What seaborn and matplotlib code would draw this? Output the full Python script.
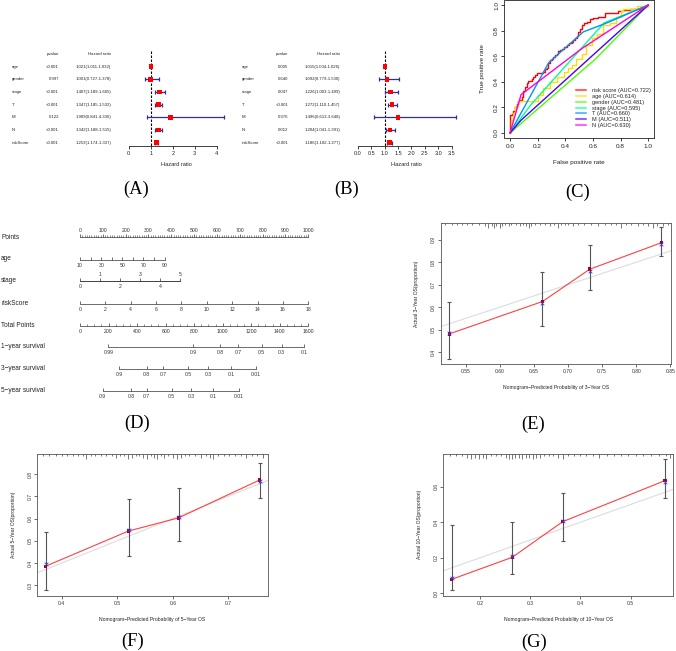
import matplotlib
matplotlib.use('Agg')
import matplotlib.pyplot as plt
from matplotlib.lines import Line2D
import numpy as np
import pandas as pd
import seaborn as sns

# ---------------- data ----------------
cox_vars = ['age', 'gender', 'stage', 'T', 'M', 'N', 'riskScore']
uni_p = ['<0.001', '0.997', '<0.001', '<0.001', '0.122', '<0.001', '<0.001']
uni_hr = [1.021, 1.001, 1.407, 1.347, 1.909, 1.342, 1.253]
uni_lo = [1.011, 0.727, 1.189, 1.185, 0.841, 1.188, 1.174]
uni_hi = [1.032, 1.378, 1.665, 1.532, 4.336, 1.515, 1.337]
uni_ticks = [0, 1, 2, 3, 4]
multi_p = ['0.005', '0.640', '0.047', '<0.001', '0.376', '0.012', '<0.001']
multi_hr = [1.015, 1.092, 1.226, 1.272, 1.496, 1.204, 1.186]
multi_lo = [1.004, 0.779, 1.003, 1.110, 0.613, 1.041, 1.102]
multi_hi = [1.026, 1.530, 1.499, 1.457, 3.648, 1.391, 1.277]
multi_ticks = [0.0, 0.5, 1.0, 1.5, 2.0, 2.5, 3.0, 3.5]

roc_labels = ['risk score (AUC=0.722)', 'age (AUC=0.614)', 'gender (AUC=0.481)',
              'stage (AUC=0.595)', 'T (AUC=0.660)', 'M (AUC=0.511)', 'N (AUC=0.630)']
roc_colors = ['#FF0000', '#FFDB00', '#49FF00', '#00FF92', '#0092FF', '#4900FF', '#FF00DB']
risk_fpr = [0, 0, 0.012, 0.024, 0.036, 0.048, 0.060, 0.072, 0.084, 0.096, 0.108, 0.120, 0.133,
            0.145, 0.157, 0.169, 0.181, 0.198, 0.220, 0.241, 0.253, 0.265, 0.277, 0.289, 0.301,
            0.313, 0.325, 0.337, 0.349, 0.361, 0.373, 0.392, 0.410, 0.428, 0.446, 0.458, 0.470,
            0.482, 0.494, 0.506, 0.518, 0.536, 0.554, 0.578, 0.602, 0.633, 0.663, 0.687, 0.717,
            0.747, 0.783, 0.819, 0.867, 0.916, 0.940, 0.964, 0.982, 1.0]
risk_tpr = [0, 0.14, 0.15, 0.17, 0.20, 0.23, 0.25, 0.26, 0.28, 0.33, 0.36, 0.39, 0.41,
            0.41, 0.42, 0.44, 0.45, 0.47, 0.47, 0.48, 0.50, 0.51, 0.55, 0.57, 0.58,
            0.59, 0.61, 0.62, 0.64, 0.65, 0.66, 0.67, 0.69, 0.70, 0.71, 0.73, 0.74,
            0.76, 0.79, 0.81, 0.84, 0.86, 0.87, 0.89, 0.90, 0.91, 0.91, 0.935, 0.94,
            0.94, 0.95, 0.96, 0.97, 0.97, 0.98, 0.985, 0.99, 1.0]
age_fpr = [0, 0.007, 0.02, 0.036, 0.06, 0.12, 0.18, 0.20, 0.24, 0.29, 0.34, 0.39, 0.42,
           0.45, 0.48, 0.52, 0.55, 0.59, 0.63, 0.67, 0.72, 0.77, 0.80, 0.82, 0.92, 1.0]
age_tpr = [0, 0.10, 0.16, 0.21, 0.25, 0.25, 0.25, 0.30, 0.35, 0.40, 0.44, 0.48, 0.51,
           0.53, 0.58, 0.62, 0.69, 0.74, 0.77, 0.84, 0.86, 0.91, 0.95, 0.97, 0.99, 1.0]
gender_fpr = [0, 0.62, 1.0]
gender_tpr = [0, 0.58, 1.0]
stage_fpr = [0, 0.15, 0.68, 1.0]
stage_tpr = [0, 0.22, 0.86, 1.0]
t_fpr = [0, 0.28, 0.53, 0.70, 1.0]
t_tpr = [0, 0.55, 0.79, 0.86, 1.0]
m_fpr = [0, 0.08, 1.0]
m_tpr = [0, 0.10, 1.0]
n_fpr = [0, 0.08, 0.52, 1.0]
n_tpr = [0, 0.30, 0.66, 1.0]

# nomogram
points_ticks = [0, 100, 200, 300, 400, 500, 600, 700, 800, 900, 1000]
points_minor = list(range(0, 1001, 10))
age_values = [10, 20, 30, 40, 50, 60, 70, 80, 90]
age_points = [0, 46, 93, 139, 185, 232, 278, 324, 371]
stage_values = [0, 1, 2, 3, 4, 5]
stage_points = [0, 88, 175, 263, 350, 438]
risk_values = [0, 2, 4, 6, 8, 10, 12, 14, 16, 18]
risk_points = [0, 111, 222, 333, 444, 556, 667, 778, 889, 1000]
total_ticks = [0, 200, 400, 600, 800, 1000, 1200, 1400, 1600]
total_minor = list(range(0, 1601, 50))
surv1_probs = ['0.99', '0.9', '0.8', '0.7', '0.5', '0.3', '0.1']
surv1_total = [198, 794, 981, 1110, 1273, 1413, 1572]
surv3_probs = ['0.9', '0.8', '0.7', '0.5', '0.3', '0.1', '0.01']
surv3_total = [276, 467, 584, 759, 899, 1058, 1233]
surv5_probs = ['0.9', '0.8', '0.7', '0.5', '0.3', '0.1', '0.01']
surv5_total = [159, 357, 467, 643, 778, 934, 1116]

# calibration
cal3_pred = [0.526, 0.6625, 0.732, 0.837]
cal3_obs = [0.481, 0.625, 0.769, 0.887]
cal3_corr = [0.486, 0.619, 0.762, 0.882]
cal3_lo = [0.369, 0.517, 0.676, 0.826]
cal3_hi = [0.625, 0.755, 0.875, 0.955]
cal3_rug = [0.520, 0.530, 0.537, 0.545, 0.552, 0.560, 0.569, 0.578, 0.583, 0.588, 0.592, 0.595,
            0.600, 0.604, 0.608, 0.614, 0.617, 0.624, 0.629, 0.634, 0.639, 0.643, 0.646, 0.651,
            0.659, 0.666, 0.673, 0.680, 0.685, 0.690, 0.695, 0.700, 0.707, 0.714, 0.724, 0.734,
            0.744, 0.754, 0.763, 0.770, 0.778, 0.785, 0.793, 0.802, 0.810, 0.817, 0.824, 0.831,
            0.839, 0.846]
cal3_rugn = [1, 1, 1, 1, 1, 1, 1, 2, 3, 2, 3, 2, 3, 2, 1, 2, 1, 1, 2, 1, 2, 3, 2, 1, 1,
             1, 2, 1, 3, 1, 1, 1, 2, 1, 1, 1, 2, 1, 1, 1, 3, 1, 1, 2, 1, 2, 3, 2, 2, 1]

cal5_pred = [0.3712, 0.5204, 0.6104, 0.7562]
cal5_obs = [0.386, 0.544, 0.603, 0.773]
cal5_corr = [0.394, 0.548, 0.605, 0.767]
cal5_lo = [0.277, 0.430, 0.498, 0.691]
cal5_hi = [0.541, 0.686, 0.739, 0.850]
cal5_rug = [0.367, 0.378, 0.390, 0.400, 0.410, 0.420, 0.430, 0.438, 0.444, 0.452, 0.460, 0.470,
            0.480, 0.490, 0.498, 0.505, 0.512, 0.519, 0.526, 0.533, 0.540, 0.547, 0.553, 0.560,
            0.566, 0.571, 0.578, 0.585, 0.592, 0.600, 0.607, 0.614, 0.622, 0.630, 0.640, 0.650,
            0.660, 0.667, 0.673, 0.682, 0.692, 0.702, 0.712, 0.722, 0.732, 0.742, 0.752, 0.763]
cal5_rugn = [1, 1, 1, 1, 1, 1, 1, 1, 3, 1, 1, 1, 1, 1, 2, 1, 1, 3, 2, 1, 1, 2, 3, 1,
             2, 3, 1, 2, 1, 2, 3, 2, 1, 1, 1, 2, 1, 2, 3, 1, 1, 1, 1, 1, 2, 1, 1, 2]

cal10_pred = [0.1436, 0.2644, 0.3646, 0.5683]
cal10_obs = [0.079, 0.203, 0.403, 0.634]
cal10_corr = [0.088, 0.210, 0.405, 0.627]
cal10_lo = [0.019, 0.107, 0.294, 0.534]
cal10_hi = [0.382, 0.399, 0.566, 0.757]
cal10_rug = [0.140, 0.152, 0.165, 0.175, 0.182, 0.190, 0.198, 0.206, 0.213, 0.222, 0.232,
             0.242, 0.252, 0.258, 0.263, 0.270, 0.277, 0.284, 0.291, 0.298, 0.305, 0.312,
             0.319, 0.328, 0.337, 0.346, 0.356, 0.366, 0.376, 0.388, 0.400, 0.412, 0.425,
             0.438, 0.452, 0.466, 0.480, 0.495, 0.510, 0.525, 0.540, 0.556, 0.570, 0.578]
cal10_rugn = [1, 1, 1, 2, 3, 2, 3, 2, 3, 1, 1, 1, 2, 3, 3, 2, 2, 3, 2, 2, 3, 2,
              2, 1, 1, 1, 2, 3, 1, 1, 1, 1, 1, 2, 1, 1, 1, 1, 1, 1, 1, 1, 1, 2]

# ---------------- setup ----------------
sns.set_theme(style='white')
plt.rcParams['font.family'] = ['Liberation Sans', 'DejaVu Sans']

W, H = 676, 651
fig = plt.figure(figsize=(W / 100, H / 100), dpi=100, facecolor='white')


def px_axes(x0, y0, x1, y1):
    return fig.add_axes([x0 / W, 1 - y1 / H, (x1 - x0) / W, (y1 - y0) / H])


def ftext(x, y, s, **kw):
    kw.setdefault('fontsize', 3.1)
    kw.setdefault('color', '#222222')
    return fig.text(x / W, 1 - y / H, s, **kw)


def panel_label(x, y, s):
    ftext(x, y, s, fontsize=13.3, family=['Liberation Serif', 'DejaVu Serif'],
          ha='center', va='center', color='black')


# ---------------- forest plots ----------------
ROW0, ROWSTEP = 66.7, 12.67


def forest(lab_x, p_x, hr_x, zero_px, unit_px, ticks, fmt, pvals, hr, lo, hi):
    ys = [ROW0 + i * ROWSTEP for i in range(len(cox_vars))]
    ftext(p_x, 54, 'pvalue', ha='right', va='center')
    ftext(hr_x, 54, 'Hazard ratio', ha='right', va='center')
    for v, p, h, l, u, y in zip(cox_vars, pvals, hr, lo, hi, ys):
        ftext(lab_x, y, v, ha='left', va='center')
        ftext(p_x, y, p, ha='right', va='center')
        ftext(hr_x, y, f'{h:.3f}({l:.3f}-{u:.3f})', ha='right', va='center')
    xmax = max(hi)
    xl = (-0.04 * xmax, 1.04 * xmax)
    ax = px_axes(zero_px + xl[0] * unit_px, 48, zero_px + xl[1] * unit_px, 146)
    df = pd.DataFrame({'var': cox_vars, 'hr': hr, 'lo': lo, 'hi': hi, 'y': ys})
    navy = '#2E3192'
    ax.hlines(df['y'], df['lo'], df['hi'], color=navy, lw=0.9, clip_on=False, zorder=3)
    ax.vlines(df['lo'], df['y'] - 2, df['y'] + 2, color=navy, lw=0.9, clip_on=False, zorder=3)
    ax.vlines(df['hi'], df['y'] - 2, df['y'] + 2, color=navy, lw=0.9, clip_on=False, zorder=3)
    ax.vlines(1, 51, 146, colors='black', linestyles=(0, (2.2, 1.4)), lw=0.8, zorder=2)
    sns.scatterplot(data=df, x='hr', y='y', marker='s', color='red', s=11,
                    edgecolor='none', ax=ax, zorder=5, legend=False)
    ax.set_xlim(xl)
    ax.set_ylim(146, 48)
    ax.patch.set_visible(False)
    for s in ['top', 'right', 'left']:
        ax.spines[s].set_visible(False)
    ax.spines['bottom'].set_bounds(ticks[0], ticks[-1])
    ax.spines['bottom'].set_color('#222222')
    ax.spines['bottom'].set_linewidth(0.6)
    ax.set_xticks(ticks)
    ax.set_xticklabels([fmt.format(t) for t in ticks])
    ax.set_yticks([])
    ax.tick_params(axis='x', bottom=True, length=2.4, width=0.6, pad=1.2,
                   labelsize=4.0, colors='#222222')
    ax.set_xlabel('Hazard ratio', fontsize=4.1, color='#222222')
    ax.xaxis.set_label_coords(0.5, -15.5 / 98)
    ax.set_ylabel('')
    return ax


forest(11.7, 59.0, 111.0, 128.7, 22.0, uni_ticks, '{:g}', uni_p, uni_hr, uni_lo, uni_hi)
forest(241.7, 288.3, 340.3, 357.7, 26.86, multi_ticks, '{:.1f}', multi_p, multi_hr, multi_lo, multi_hi)
panel_label(136, 189.5, '(A)')
panel_label(346.7, 189.5, '(B)')

# ---------------- ROC ----------------
RX0, RY0, RX1, RY1 = 504.5, -0.1, 653.8, 138.1
axc = px_axes(RX0, RY0, RX1, RY1)
curves = [(risk_fpr, risk_tpr, True), (age_fpr, age_tpr, True), (gender_fpr, gender_tpr, False),
          (stage_fpr, stage_tpr, False), (t_fpr, t_tpr, False), (m_fpr, m_tpr, False),
          (n_fpr, n_tpr, False)]
for (fpr, tpr, step), col in zip(curves, roc_colors):
    sns.lineplot(x=fpr, y=tpr, sort=False, estimator=None, color=col, lw=1.0,
                 drawstyle='steps-post' if step else 'default', ax=axc)
axc.set_xlim(-0.04, 1.04)
axc.set_ylim(-0.04, 1.04)
ticks01 = [0.0, 0.2, 0.4, 0.6, 0.8, 1.0]
axc.set_xticks(ticks01)
axc.set_xticklabels([f'{t:.1f}' for t in ticks01])
axc.set_yticks(ticks01)
axc.set_yticklabels([f'{t:.1f}' for t in ticks01], rotation=90, va='center')
axc.tick_params(axis='both', bottom=True, left=True, length=2.4, width=0.6, pad=1.5,
                labelsize=4.6, colors='#222222')
for s in axc.spines.values():
    s.set_color('#222222')
    s.set_linewidth(0.6)
axc.set_xlabel('False positive rate', fontsize=4.6, color='#222222')
axc.set_ylabel('True positive rate', fontsize=4.6, color='#222222')
axc.xaxis.set_label_coords(0.5, -21.5 / (RY1 - RY0))
axc.yaxis.set_label_coords(-19.5 / (RX1 - RX0), 0.5)
handles = [Line2D([0], [0], color=c, lw=1.5, alpha=0.6) for c in roc_colors]
axc.legend(handles, roc_labels, loc='upper left', bbox_to_anchor=(0.479, 0.3626),
           frameon=False, fontsize=4.1, handlelength=1.75, handletextpad=1.0,
           labelspacing=0.15, borderaxespad=0, borderpad=0, labelcolor='#222222')
panel_label(578, 192, '(C)')

# ---------------- nomogram ----------------
NX0, NX1 = 80.0, 308.3


def nomo_row(y_line, xmax, ticks, labels, side='bottom', minor=None, bounds=None, pad=2.2):
    if side == 'bottom':
        ax = px_axes(NX0, y_line - 2, NX1, y_line)
    else:
        ax = px_axes(NX0, y_line, NX1, y_line + 2)
    ax.set_xlim(0, xmax)
    ax.set_ylim(0, 1)
    ax.patch.set_visible(False)
    for s in ax.spines.values():
        s.set_visible(False)
    sp = ax.spines[side]
    sp.set_visible(True)
    sp.set_linewidth(0.5)
    sp.set_color('#333333')
    sp.set_bounds(*(bounds if bounds else (ticks[0], ticks[-1])))
    ax.set_yticks([])
    ax.set_xticks(ticks)
    ax.set_xticklabels(labels)
    if minor is not None:
        ax.set_xticks(minor, minor=True)
    if side == 'bottom':
        ax.tick_params(axis='x', which='both', bottom=True, top=False, labelbottom=True,
                       labeltop=False, direction='in')
    else:
        ax.tick_params(axis='x', which='both', top=True, bottom=False, labeltop=True,
                       labelbottom=False, direction='out')
    ax.tick_params(axis='x', which='major', length=2.0, width=0.5, pad=pad, labelsize=3.7,
                   colors='#333333')
    ax.tick_params(axis='x', which='minor', length=1.1, width=0.4, colors='#333333')
    return ax


row_names = ['Points', 'age', 'stage', 'riskScore', 'Total Points',
             '1\u2212year survival', '3\u2212year survival', '5\u2212year survival']
row_label_y = [237.3, 258.7, 281.0, 303.3, 325.3, 346.7, 369.0, 390.7]
for name, y in zip(row_names, row_label_y):
    ftext(1, y, name, ha='left', va='center', fontsize=4.7)

nomo_row(236.7, 1000, points_ticks, [str(t) for t in points_ticks], side='top',
         minor=points_minor, pad=0.8)
nomo_row(260.0, 1000, age_points,
         [str(v) if i % 2 == 0 else '' for i, v in enumerate(age_values)])
nomo_row(281.0, 1000, stage_points[0::2], [str(v) for v in stage_values[0::2]],
         bounds=(stage_points[0], stage_points[-1]))
nomo_row(281.0, 1000, stage_points[1::2], [str(v) for v in stage_values[1::2]], side='top',
         bounds=(stage_points[0], stage_points[-1]), pad=0.8)
nomo_row(304.0, 1000, risk_points, [str(v) for v in risk_values])
nomo_row(326.0, 1600, total_ticks, [str(t) for t in total_ticks], minor=total_minor)
nomo_row(346.7, 1600, surv1_total, surv1_probs)
nomo_row(369.0, 1600, surv3_total, surv3_probs)
nomo_row(391.0, 1600, surv5_total, surv5_probs)
panel_label(137, 423, '(D)')

# ---------------- calibration ----------------


def calib(box, xlim, ylim, xticks, xfmt, yticks, yfmt, pred, obs, corr, lo, hi,
          rug_x, rug_n, xlabel, ylabel):
    x0, y0, x1, y1 = box
    bw, bh = x1 - x0, y1 - y0
    ax = px_axes(x0, y0, x1, y1)
    ax.axline((0, 0), (1, 1), color='#DCDCDC', lw=0.8, zorder=1)
    df = pd.DataFrame({'pred': pred, 'obs': obs, 'corr': corr, 'lo': lo, 'hi': hi})
    sns.lineplot(data=df, x='pred', y='obs', color='#FF4040', lw=0.8, ax=ax, zorder=2)
    ax.errorbar(df['pred'], df['obs'], yerr=[df['obs'] - df['lo'], df['hi'] - df['obs']],
                fmt='none', ecolor='#555555', elinewidth=0.8, capsize=1.4, capthick=0.8,
                zorder=3)
    sns.scatterplot(data=df, x='pred', y='obs', marker='s', color='#B00000', s=6,
                    edgecolor='none', ax=ax, zorder=4, legend=False)
    sns.scatterplot(data=df, x='pred', y='corr', marker='x', color='#3535FF', s=7,
                    linewidth=0.6, ax=ax, zorder=5, legend=False)
    ax.vlines(rug_x, 1 - np.array(rug_n) * 1.8 / bh, 1, transform=ax.get_xaxis_transform(),
              color='#444444', lw=0.5)
    ax.set_xlim(xlim)
    ax.set_ylim(ylim)
    ax.set_xticks(xticks)
    ax.set_xticklabels([xfmt.format(t) for t in xticks])
    ax.set_yticks(yticks)
    ax.set_yticklabels([yfmt.format(t) for t in yticks], rotation=90, va='center')
    ax.tick_params(axis='both', bottom=True, left=True, length=2.0, width=0.5, pad=1.5,
                   labelsize=3.6, colors='#333333')
    for s in ax.spines.values():
        s.set_color('#555555')
        s.set_linewidth(0.6)
    ax.set_xlabel(xlabel, fontsize=3.6, color='#222222')
    ax.set_ylabel(ylabel, fontsize=3.6, color='#222222')
    ax.xaxis.set_label_coords(0.5, -21.5 / bh)
    ax.yaxis.set_label_coords(-21.5 / bw, 0.5)
    return ax


calib((440.7, 222.7, 671.0, 364.0), (0.5135, 0.851), (0.347, 0.976),
      [0.55, 0.60, 0.65, 0.70, 0.75, 0.80, 0.85], '{:.2f}', [0.4, 0.5, 0.6, 0.7, 0.8, 0.9], '{:.1f}',
      cal3_pred, cal3_obs, cal3_corr, cal3_lo, cal3_hi, cal3_rug, cal3_rugn,
      'Nomogram\u2212Predicted Probability of 3\u2212Year OS', 'Actual 3\u2212Year OS(proportion)')
panel_label(533, 424, '(E)')

calib((37.3, 454.0, 267.7, 595.7), (0.3562, 0.7708), (0.2536, 0.8898),
      [0.4, 0.5, 0.6, 0.7], '{:.1f}', [0.3, 0.4, 0.5, 0.6, 0.7, 0.8], '{:.1f}',
      cal5_pred, cal5_obs, cal5_corr, cal5_lo, cal5_hi, cal5_rug, cal5_rugn,
      'Nomogram\u2212Predicted Probability of 5\u2212Year OS', 'Actual 5\u2212Year OS(proportion)')
panel_label(133, 641, '(F)')

calib((443.3, 454.0, 673.3, 595.7), (0.127, 0.585), (-0.013, 0.7837),
      [0.2, 0.3, 0.4, 0.5], '{:.1f}', [0.0, 0.2, 0.4, 0.6], '{:.1f}',
      cal10_pred, cal10_obs, cal10_corr, cal10_lo, cal10_hi, cal10_rug, cal10_rugn,
      'Nomogram\u2212Predicted Probability of 10\u2212Year OS', 'Actual 10\u2212Year OS(proportion)')
panel_label(534, 642, '(G)')

fig.savefig('out.png', dpi=100, facecolor='white')
